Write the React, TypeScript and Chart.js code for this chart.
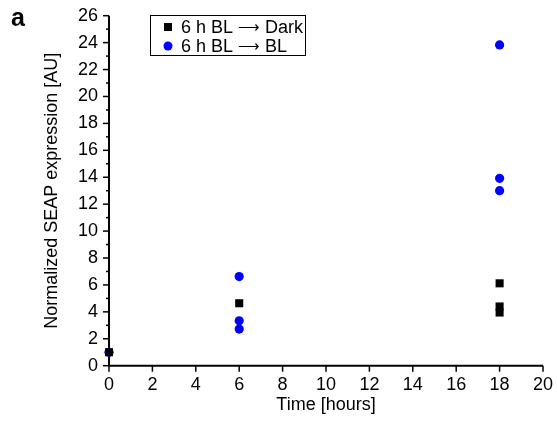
import React, { useEffect, useRef } from "react";
import { Chart, registerables } from "chart.js";

Chart.register(...registerables);

// Time points (hours) and normalized SEAP readings per replicate
const darkTimes = [0, 6, 18, 18, 18];
const darkValues = [1.0, 4.64, 6.12, 4.4, 3.95];
const blTimes = [0, 6, 6, 6, 18, 18, 18];
const blValues = [1.0, 6.62, 3.34, 2.72, 23.83, 13.92, 13.0];

const ARROW = "\u27F6";
const seriesLabels = [`6 h BL ${ARROW} Dark`, `6 h BL ${ARROW} BL`];
const xTitle = "Time [hours]";
const yTitle = "Normalized SEAP expression [AU]";
const panelLabel = "a";

const FONT = "'Liberation Sans', Arial, Helvetica, sans-serif";

const toPoints = (xs: number[], ys: number[]) => xs.map((x, i) => ({ x, y: ys[i] }));

// Axis lines with long major / short minor tick marks
const axesPlugin = {
  id: "axesPlugin",
  beforeDatasetsDraw(chart: any) {
    const { ctx, chartArea } = chart;
    const xs = chart.scales.x;
    const ys = chart.scales.y;
    ctx.save();
    ctx.strokeStyle = "#000";
    ctx.lineWidth = 2;
    ctx.beginPath();
    ctx.moveTo(chartArea.left, chartArea.top);
    ctx.lineTo(chartArea.left, chartArea.bottom);
    ctx.lineTo(chartArea.right, chartArea.bottom);
    ctx.stroke();
    ctx.lineWidth = 1.5;
    ys.ticks.forEach((t: any) => {
      const py = ys.getPixelForValue(t.value);
      const len = t.value % 2 === 0 ? 6 : 3;
      ctx.beginPath();
      ctx.moveTo(chartArea.left, py);
      ctx.lineTo(chartArea.left - len, py);
      ctx.stroke();
    });
    xs.ticks.forEach((t: any) => {
      const px = xs.getPixelForValue(t.value);
      ctx.beginPath();
      ctx.moveTo(px, chartArea.bottom);
      ctx.lineTo(px, chartArea.bottom + 6);
      ctx.stroke();
    });
    ctx.restore();
  },
};

// Boxed legend inside the plot and the panel letter
const legendPlugin = {
  id: "legendPlugin",
  afterDraw(chart: any) {
    const { ctx } = chart;
    ctx.save();
    const bx = 150, by = 15, bw = 155, bh = 40;
    ctx.strokeStyle = "#000";
    ctx.lineWidth = 1;
    ctx.strokeRect(bx + 0.5, by + 0.5, bw, bh);
    ctx.textBaseline = "middle";
    chart.data.datasets.forEach((ds: any, i: number) => {
      const cy = by + 12 + i * 19;
      ctx.fillStyle = ds.backgroundColor;
      ctx.beginPath();
      if (ds.pointStyle === "rect") {
        ctx.rect(bx + 14, cy - 4, 8, 8);
      } else {
        ctx.arc(bx + 18, cy, 4.5, 0, Math.PI * 2);
      }
      ctx.fill();
      ctx.fillStyle = "#000";
      // the arrow glyph is set a little smaller than the words around it
      const [before, after] = String(ds.label).split(ARROW);
      let x = bx + 31;
      ctx.font = `18px ${FONT}`;
      ctx.fillText(before, x, cy + 1);
      x += ctx.measureText(before).width;
      ctx.font = `15px ${FONT}`;
      ctx.fillText(ARROW, x, cy + 1);
      x += ctx.measureText(ARROW).width;
      ctx.font = `18px ${FONT}`;
      ctx.fillText(after, x, cy + 1);
    });
    ctx.font = `bold 25px ${FONT}`;
    ctx.textBaseline = "alphabetic";
    ctx.fillText(panelLabel, 11, 26);
    ctx.restore();
  },
};

export default function App() {
  const canvasRef = useRef<HTMLCanvasElement | null>(null);

  useEffect(() => {
    document.body.style.margin = "0";
    const canvas = canvasRef.current;
    if (!canvas) return;
    const chart = new Chart(canvas, {
      type: "scatter",
      data: {
        datasets: [
          {
            label: seriesLabels[0],
            data: toPoints(darkTimes, darkValues),
            pointStyle: "rect",
            pointRadius: 5.7,
            backgroundColor: "#000000",
            borderWidth: 0,
            clip: false,
          },
          {
            label: seriesLabels[1],
            data: toPoints(blTimes, blValues),
            pointStyle: "circle",
            pointRadius: 4.6,
            backgroundColor: "#0000ff",
            borderWidth: 0,
            clip: false,
          },
        ],
      },
      options: {
        responsive: false,
        animation: false,
        layout: { padding: { top: 15.7, right: 14, left: 0, bottom: 0 } },
        plugins: {
          legend: { display: false },
          tooltip: { enabled: false },
          title: { display: false },
        },
        scales: {
          x: {
            type: "linear",
            min: 0,
            max: 20,
            grid: { display: false, drawTicks: false },
            border: { display: false },
            ticks: { stepSize: 2, padding: 9, color: "#000", font: { family: FONT, size: 18 } },
            title: {
              display: true,
              text: xTitle,
              color: "#000",
              font: { family: FONT, size: 18 },
              padding: { top: 0, bottom: 12 },
            },
            afterFit(scale: any) {
              scale.height = 62.3;
              scale.paddingLeft = 0;
              scale.paddingRight = 0;
            },
          },
          y: {
            type: "linear",
            min: 0,
            max: 26,
            grid: { display: false, drawTicks: false },
            border: { display: false },
            ticks: {
              stepSize: 1,
              padding: 11,
              color: "#000",
              font: { family: FONT, size: 18 },
              autoSkip: false,
              callback: (v: any) => (Number(v) % 2 === 0 ? String(v) : ""),
            },
            title: {
              display: true,
              text: yTitle,
              color: "#000",
              font: { family: FONT, size: 18 },
              padding: { top: 41, bottom: 0 },
            },
            afterFit(scale: any) {
              scale.width = 109;
              scale.paddingTop = 0;
              scale.paddingBottom = 0;
            },
          },
        },
      },
      plugins: [axesPlugin, legendPlugin],
    });
    return () => chart.destroy();
  }, []);

  return (
    <div style={{ width: 557, height: 428, background: "#fff" }}>
      <canvas ref={canvasRef} width={557} height={428} />
    </div>
  );
}
